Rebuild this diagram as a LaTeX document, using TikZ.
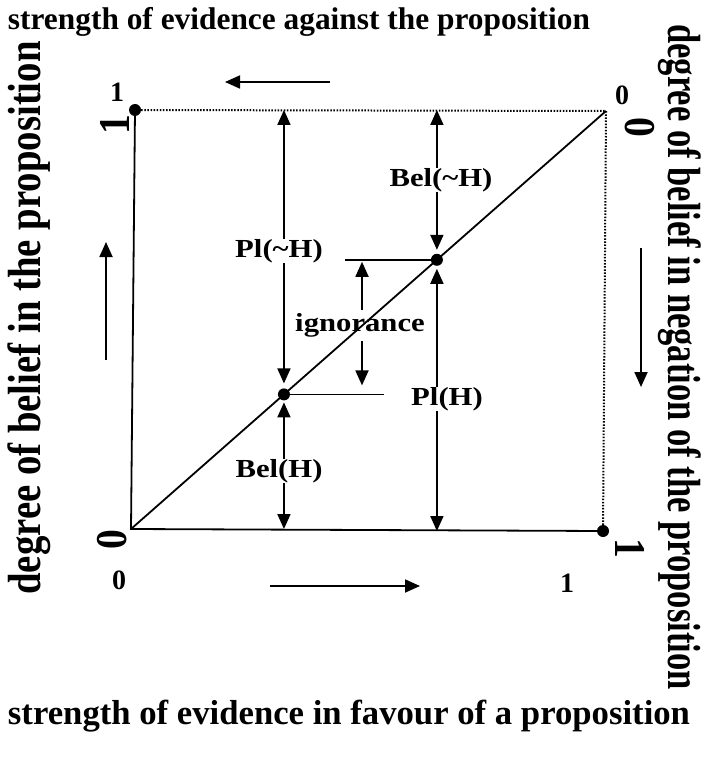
\documentclass[tikz,border=0pt]{standalone}
\usepackage{fontspec}
\usepackage{graphicx}
\setmainfont{Liberation Serif}
\newfontfamily\lblfont[FakeStretch=1.18]{Liberation Serif}
\usetikzlibrary{arrows.meta}
\begin{document}
\begin{tikzpicture}[x=1pt,y=-1pt,
  lbl/.style={font=\lblfont\bfseries\fontsize{26}{26}\selectfont, inner sep=0pt},
  cover/.style={lbl, fill=white},
  num/.style={font=\bfseries\fontsize{28}{28}\selectfont, inner sep=0pt},
  bignum/.style={inner sep=0pt},
  ln/.style={line width=1.8pt},
  arr/.style={line width=1.8pt, -{Triangle[length=15pt,width=13pt]}},
  darr/.style={line width=1.8pt, {Triangle[length=15pt,width=13pt]}-{Triangle[length=15pt,width=13pt]}},
  dotline/.style={line width=2pt, dash pattern=on 1.5pt off 1.6pt},
  dot/.style={circle, fill=black, inner sep=0pt, minimum size=12pt}
]
\useasboundingbox (0,0) rectangle (709,759);

% titles
\node[inner sep=0pt] (ttop) at (299,22) {\resizebox{582pt}{!}{\bfseries strength of evidence against the proposition}};
\node[inner sep=0pt] (tbot) at (349,716) {\resizebox{682pt}{!}{\bfseries strength of evidence in favour of a proposition}};
\node[inner sep=0pt, rotate=90] (tleft) at (29,318) {\resizebox*{553pt}{43pt}{\bfseries degree of belief in the proposition}};
\node[inner sep=0pt, rotate=-90] (tright) at (680,357) {\resizebox*{665pt}{43pt}{\bfseries degree of belief in negation of the proposition}};

% frame
\coordinate (O) at (131,529);
\coordinate (TR) at (606,111);
\coordinate (TLc) at (135,110);
\coordinate (BRc) at (603,531);
\draw[ln] (TLc) -- (O) -- (BRc);
\draw[dotline] (TLc) -- (TR) -- (BRc);
\draw[ln] (O) -- (TR);
\node[dot] (TL) at (TLc) {};
\node[dot] (BR) at (BRc) {};

% points on diagonal
\path (O) -- (TR) coordinate[pos=0.322] (D1c) coordinate[pos=0.644] (D2c);

% helper coordinates
\coordinate (T1) at (D1c |- TLc);
\coordinate (B1) at (D1c |- O);
\coordinate (T2) at (D2c |- TLc);
\coordinate (B2) at (D2c |- BRc);

% ignorance lines
\draw[ln] (D2c) -- ++(-92,0) coordinate (ig1);
\draw[ln] (D1c) -- ++(100,0) coordinate (ig2);

% vertical double arrows
\draw[darr, shorten <=11pt] (D1c) -- (T1);
\draw[darr, shorten <=8pt] (D1c) -- (B1);
\draw[darr, shorten <=10pt] (D2c) -- (T2);
\draw[darr, shorten <=9pt] (D2c) -- (B2);

% labels
\node[cover] (plnh) at (279,251) {Pl(\textasciitilde H)};
\node[cover] (belnh) at (441,180) {Bel(\textasciitilde H)};
\node[cover] (plh) at (447,399) {Pl(H)};
\node[cover] (belh) at (279,471) {Bel(H)};
\node[lbl] (ign) at (360,325) {ignorance};

% ignorance arrow
\coordinate (ia) at (362,0);
\draw[arr, shorten >=2pt] (ign.north -| ia) ++(0,-3) coordinate (igA) (igA) -- (ia |- D2c);
\draw[arr, shorten >=9pt] (ign.south -| ia) ++(0,4) coordinate (igB) (igB) -- (ia |- D1c);

% direction arrows
\coordinate (a1s) at (330,82); \coordinate (a1e) at (225,82);
\coordinate (a2s) at (270,586); \coordinate (a2e) at (420,586);
\coordinate (a3s) at (106,360); \coordinate (a3e) at (106,242);
\coordinate (a4s) at (641,248); \coordinate (a4e) at (641,387);
\draw[arr] (a1s) -- (a1e);
\draw[arr] (a2s) -- (a2e);
\draw[arr] (a3s) -- (a3e);
\draw[arr] (a4s) -- (a4e);

% small numbers
\node[num] (n1) at (117,92) {1};
\node[num] (n2) at (622,95) {0};
\node[num] (n3) at (119,580) {0};
\node[num] (n4) at (567,583) {1};

% big rotated numbers
\node[bignum, rotate=90] (b1) at (115,125) {\scalebox{0.9}[1]{\bfseries\fontsize{44}{44}\selectfont 1}};
\node[bignum, rotate=90] (b2) at (112,540) {\scalebox{0.9}[1]{\bfseries\fontsize{44}{44}\selectfont 0}};
\node[bignum, rotate=-90] (b3) at (640,127) {\scalebox{0.9}[1]{\bfseries\fontsize{44}{44}\selectfont 0}};
\node[bignum, rotate=-90] (b4) at (630,548) {\scalebox{0.9}[1]{\bfseries\fontsize{44}{44}\selectfont 1}};

% dots on diagonal (on top)
\node[dot] (D1) at (D1c) {};
\node[dot] (D2) at (D2c) {};
\end{tikzpicture}
\end{document}
